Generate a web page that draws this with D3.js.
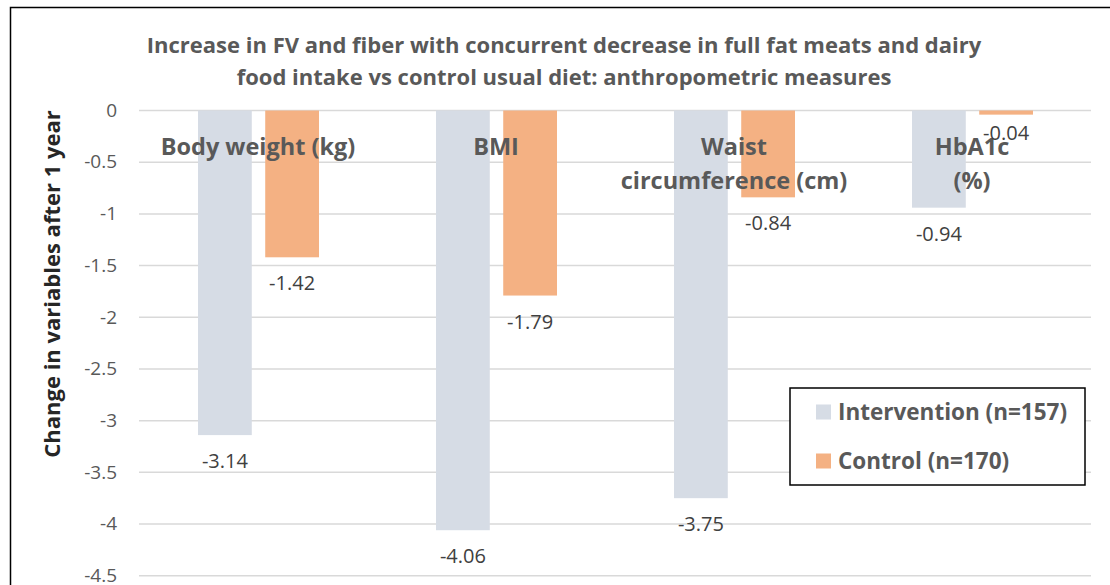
<!DOCTYPE html>
<html>
<head>
<meta charset="utf-8">
<script src="https://cdn.jsdelivr.net/npm/d3@7"></script>
<style>
  body { margin: 0; background: #fff; }
  text { font-family: "Open Sans", Lato, sans-serif; }
</style>
</head>
<body>
<div id="chart"></div>
<script>
// data
const categories = ['Body weight (kg)', 'BMI', 'Waist circumference (cm)', 'HbA1c (%)'];
const categoryLines = [['Body weight (kg)'], ['BMI'], ['Waist', 'circumference (cm)'], ['HbA1c', '(%)']];
const seriesNames = ['Intervention (n=157)', 'Control (n=170)'];
const intervention = [-3.14, -4.06, -3.75, -0.94];
const control = [-1.42, -1.79, -0.84, -0.04];
const yTicks = [0, -0.5, -1, -1.5, -2, -2.5, -3, -3.5, -4, -4.5];
const titleLines = [
    'Increase in FV and fiber with concurrent decrease in full fat meats and dairy',
    'food intake vs control usual diet: anthropometric measures'
];
const yTitle = 'Change in variables after 1 year';

const width = 1110, height = 585;
const colors = ['#D6DCE5', '#F4B183'];
const plot = { left: 139, right: 1091, top: 110.5, bottom: 575.7 };

const svg = d3.select('#chart').append('svg')
    .attr('width', width)
    .attr('height', height);

// outer chart border (runs off the right/bottom of the picture)
svg.append('rect')
    .attr('x', 10.5).attr('y', 7.5)
    .attr('width', 1120).attr('height', 600)
    .style('fill', 'none')
    .style('stroke', '#000')
    .style('stroke-width', 1.5);

const y = d3.scaleLinear().domain([-4.5, 0]).range([plot.bottom, plot.top]);
const x0 = d3.scaleBand().domain(categories).range([plot.left, plot.right]).paddingInner(0);
const x1 = d3.scaleBand().domain(seriesNames).range([59, 180]).paddingInner(0.2);

// gridlines
svg.append('g').selectAll('line')
    .data(yTicks)
    .join('line')
    .attr('x1', plot.left).attr('x2', plot.right)
    .attr('y1', d => y(d)).attr('y2', d => y(d))
    .style('stroke', '#D9D9D9')
    .style('stroke-width', 1.5);

// y tick labels
svg.append('g').selectAll('text')
    .data(yTicks)
    .join('text')
    .attr('x', 117)
    .attr('y', d => y(d))
    .attr('dy', '0.33em')
    .attr('text-anchor', 'end')
    .style('font-size', '19px')
    .style('fill', '#595959')
    .text(d => d);

const rows = categories.map((c, i) => ({ cat: c, values: [intervention[i], control[i]] }));

const groups = svg.append('g').selectAll('g')
    .data(rows)
    .join('g')
    .attr('transform', d => `translate(${x0(d.cat)},0)`);

groups.selectAll('rect')
    .data(d => d.values.map((v, j) => ({ key: seriesNames[j], v: v, j: j })))
    .join('rect')
    .attr('x', d => x1(d.key))
    .attr('y', y(0))
    .attr('width', x1.bandwidth())
    .attr('height', d => y(d.v) - y(0))
    .style('fill', d => colors[d.j]);

// category labels sit inside the plot, near the top
groups.each(function (d, i) {
    const t = d3.select(this).append('text')
        .attr('text-anchor', 'middle')
        .style('font-size', '23.5px')
        .style('font-weight', 'bold')
        .style('fill', '#595959');
    categoryLines[i].forEach((line, k) => {
        t.append('tspan')
            .attr('x', x0.bandwidth() / 2)
            .attr('y', 155 + k * 34)
            .text(line);
    });
});

// data labels below bar ends (tiny bars get their label a bit tighter)
groups.selectAll('text.value')
    .data(d => d.values.map((v, j) => ({ key: seriesNames[j], v: v })))
    .join('text')
    .classed('value', true)
    .attr('x', d => x1(d.key) + x1.bandwidth() / 2)
    .attr('y', d => y(d.v) + (Math.abs(d.v) < 0.1 ? 25 : 33))
    .attr('text-anchor', 'middle')
    .style('font-size', '20px')
    .style('fill', '#404040')
    .text(d => d.v.toFixed(2));

// title
svg.append('text')
    .attr('text-anchor', 'middle')
    .style('font-size', '22px')
    .style('font-weight', 'bold')
    .style('fill', '#595959')
    .selectAll('tspan')
    .data(titleLines)
    .join('tspan')
    .attr('x', 564)
    .attr('y', (d, i) => 53 + i * 32)
    .text(d => d);

// y axis title
svg.append('text')
    .attr('transform', `translate(60,${(110 + 458) / 2}) rotate(-90)`)
    .attr('text-anchor', 'middle')
    .style('font-size', '22px')
    .style('font-weight', 'bold')
    .style('fill', '#262626')
    .text(yTitle);

// legend
const legend = svg.append('g').attr('transform', 'translate(790,388)');
legend.append('rect')
    .attr('width', 295).attr('height', 97)
    .style('fill', '#fff')
    .style('stroke', '#000')
    .style('stroke-width', 1.5);
const item = legend.selectAll('g')
    .data(seriesNames)
    .join('g')
    .attr('transform', (d, i) => `translate(26,${24 + i * 49})`);
item.append('rect')
    .attr('width', 15).attr('height', 15)
    .attr('y', -7.5)
    .style('fill', (d, i) => colors[i]);
item.append('text')
    .attr('x', 22)
    .attr('dy', '0.35em')
    .style('font-size', '22.5px')
    .style('font-weight', 'bold')
    .style('fill', '#595959')
    .text(d => d);
</script>
</body>
</html>
